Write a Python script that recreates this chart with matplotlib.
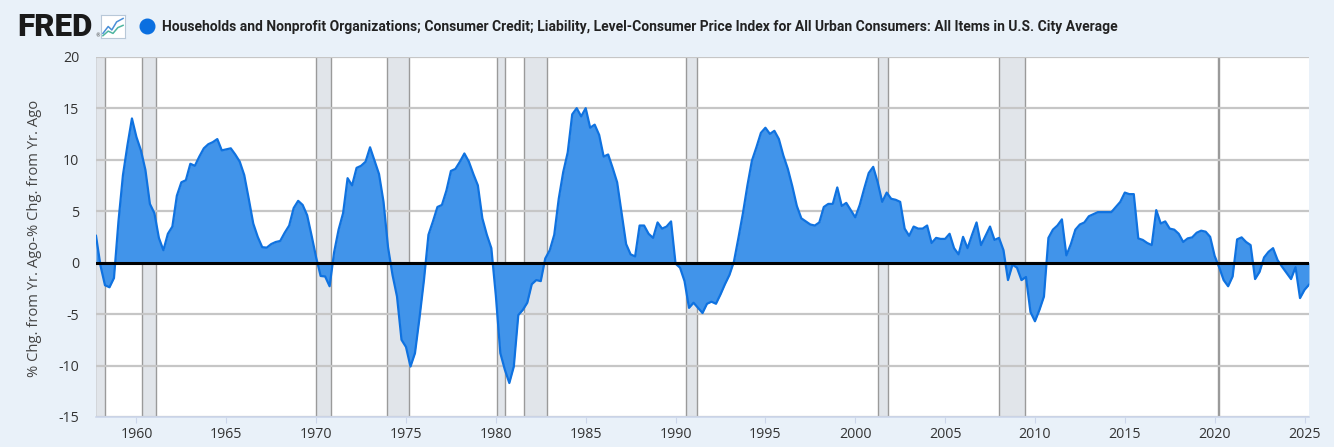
import numpy as np
import matplotlib
matplotlib.use("Agg")
import matplotlib.pyplot as plt
from matplotlib.lines import Line2D

# ---------------- data (quarterly, 1957Q4 .. 2025Q2) ----------------
start_year = 1957.75
values = [
    2.6,
    -0.3, -2.2, -2.4, -1.5,      # 1958
    4.0, 8.5, 11.4, 14.0,        # 1959
    12.2, 10.9, 9.0, 5.7,        # 1960
    4.8, 2.4, 1.2, 2.8,          # 1961
    3.5, 6.5, 7.8, 8.0,          # 1962
    9.6, 9.4, 10.3, 11.1,        # 1963
    11.5, 11.7, 12.0, 10.9,      # 1964
    11.0, 11.1, 10.5, 9.8,       # 1965
    8.5, 6.2, 3.8, 2.5,          # 1966
    1.5, 1.45, 1.8, 2.0,         # 1967
    2.1, 2.9, 3.6, 5.3,          # 1968
    6.0, 5.6, 4.6, 2.6,          # 1969
    0.5, -1.3, -1.35, -2.3,      # 1970
    1.0, 3.2, 4.8, 8.2,          # 1971
    7.5, 9.2, 9.4, 9.8,          # 1972
    11.2, 9.9, 8.6, 5.9,         # 1973
    1.5, -1.2, -3.3, -7.5,       # 1974
    -8.2, -10.1, -8.8, -5.4,     # 1975
    -1.7, 2.7, 4.0, 5.4,         # 1976
    5.6, 7.0, 8.9, 9.1,          # 1977
    9.8, 10.6, 9.8, 8.6,         # 1978
    7.5, 4.3, 2.7, 1.4,          # 1979
    -3.2, -8.8, -10.4, -11.7,    # 1980
    -10.1, -5.1, -4.6, -3.9,     # 1981
    -2.1, -1.7, -1.8, 0.4,       # 1982
    1.2, 2.7, 6.2, 8.8,          # 1983
    10.7, 14.4, 15.0, 14.2,      # 1984
    15.0, 13.1, 13.4, 12.4,      # 1985
    10.3, 10.5, 9.2, 7.8,        # 1986
    4.8, 1.8, 0.8, 0.6,          # 1987
    3.6, 3.6, 2.8, 2.4,          # 1988
    3.9, 3.3, 3.5, 4.0,          # 1989
    -0.1, -0.5, -1.8, -4.4,      # 1990
    -3.9, -4.4, -4.9, -4.0,      # 1991
    -3.8, -4.0, -3.1, -2.1,      # 1992
    -1.2, 0.1, 2.4, 4.8,         # 1993
    7.5, 9.9, 11.2, 12.6,        # 1994
    13.1, 12.5, 12.8, 12.0,      # 1995
    10.4, 9.1, 7.4, 5.5,         # 1996
    4.3, 4.0, 3.7, 3.6,          # 1997
    3.9, 5.4, 5.7, 5.7,          # 1998
    7.3, 5.5, 5.8, 5.1,          # 1999
    4.4, 5.6, 7.2, 8.7,          # 2000
    9.3, 7.8, 5.9, 6.8,          # 2001
    6.2, 6.1, 5.9, 3.3,          # 2002
    2.6, 3.5, 3.3, 3.3,          # 2003
    3.6, 1.9, 2.4, 2.3,          # 2004
    2.3, 2.8, 1.4, 0.8,          # 2005
    2.5, 1.4, 2.7, 3.9,          # 2006
    1.7, 2.6, 3.5, 2.2,          # 2007
    2.4, 1.2, -1.7, -0.2,        # 2008
    -0.5, -1.7, -1.4, -4.8,      # 2009
    -5.7, -4.6, -3.3, 2.4,       # 2010
    3.2, 3.6, 4.2, 0.7,          # 2011
    1.8, 3.2, 3.7, 3.9,          # 2012
    4.5, 4.7, 4.9, 4.9,          # 2013
    4.9, 4.9, 5.4, 5.9,          # 2014
    6.8, 6.65, 6.65, 2.35,       # 2015
    2.2, 1.9, 1.7, 5.1,          # 2016
    3.8, 4.0, 3.3, 3.2,          # 2017
    2.8, 2.0, 2.35, 2.45,        # 2018
    2.9, 3.1, 3.0, 2.5,          # 2019
    0.65, -0.45, -1.7, -2.3,     # 2020
    -1.35, 2.25, 2.45, 2.0,      # 2021
    1.7, -1.6, -0.9, 0.5,        # 2022
    1.05, 1.4, 0.25, -0.4,       # 2023
    -1.0, -1.6, -0.45, -3.45,    # 2024
    -2.65, -2.15,                # 2025
]
dates = start_year + 0.25 * np.arange(len(values))

recession_starts = [1957.67, 1960.33, 1970.0, 1973.92, 1980.08, 1981.58, 1990.58, 2001.25, 2008.0, 2020.17]
recession_ends = [1958.25, 1961.08, 1970.83, 1975.17, 1980.5, 1982.83, 1991.17, 2001.83, 2009.42, 2020.25]

x_ticks = list(range(1960, 2026, 5))
y_ticks = [-15, -10, -5, 0, 5, 10, 15, 20]

title = ("Households and Nonprofit Organizations; Consumer Credit; Liability, "
         "Level-Consumer Price Index for All Urban Consumers: All Items in U.S. City Average")
y_label = "% Chg. from Yr. Ago-% Chg. from Yr. Ago"

# ---------------- figure ----------------
W, H = 1334, 447
fig = plt.figure(figsize=(W / 100, H / 100), dpi=100)
fig.patch.set_facecolor("#e9f1f9")

left, right, top, bottom = 96, 1309, 56.7, 417
ax = fig.add_axes([left / W, 1 - bottom / H, (right - left) / W, (bottom - top) / H])
ax.set_facecolor("white")

for s, e in zip(recession_starts, recession_ends):
    ax.axvspan(s, e, facecolor="#e1e5ea", edgecolor="none", zorder=0)
    ax.axvline(s, color="#9a9a9a", lw=1.0, zorder=1)
    ax.axvline(e, color="#9a9a9a", lw=1.0, zorder=1)

for yv in y_ticks:
    ax.axhline(yv, color="#c6c6c6", lw=1.6, zorder=1)

ax.fill_between(dates, 0, values, color="#4194ea", lw=0, zorder=2)
ax.plot(dates, values, color="#0f72e0", lw=1.6, zorder=3)
ax.axhline(0, color="black", lw=2.2, zorder=4)

ax.set_xlim(dates[0], dates[-1])
ax.set_ylim(-15, 20)
ax.set_xticks(x_ticks)
ax.set_xticklabels([str(t) for t in x_ticks])
ax.set_yticks(y_ticks)
ax.set_yticklabels([str(t) for t in y_ticks])

for lab in ax.get_xticklabels() + ax.get_yticklabels():
    lab.set_fontfamily("Open Sans")
    lab.set_fontsize(10.2)
    lab.set_color("#333333")
ax.tick_params(axis="x", length=4, color="#ccd6eb", pad=3)
ax.tick_params(axis="y", length=0, pad=12)

for sp in ["left", "right", "top"]:
    ax.spines[sp].set_visible(False)
ax.spines["bottom"].set_color("#ccd6eb")
ax.spines["bottom"].set_linewidth(1.2)

fig.text(35 / W, 1 - 238 / H, y_label, rotation=90, ha="center", va="center",
         family="Open Sans", fontsize=10.6, color="#444444")

# ---------------- header ----------------
fig.text(17 / W, 1 - 27 / H, "FRED", ha="left", va="center", family="Roboto",
         fontweight="black", fontsize=22.5, color="#1a1a1a")
fig.text(95 / W, 1 - 36 / H, "®", ha="left", va="center", fontsize=3.5, color="#333333")

icon = fig.add_axes([101 / W, 1 - 38 / H, 24 / W, 23 / H])
icon.set_xlim(0, 1)
icon.set_ylim(0, 1)
icon.set_xticks([])
icon.set_yticks([])
icon.set_facecolor("white")
for sp in icon.spines.values():
    sp.set_color("#b8c8d8")
    sp.set_linewidth(0.8)
icon.plot([0.08, 0.3, 0.45, 0.65, 0.92], [0.2, 0.5, 0.35, 0.7, 0.85], color="#4a8fd8", lw=1.1)
icon.plot([0.08, 0.3, 0.5, 0.7, 0.92], [0.1, 0.3, 0.2, 0.45, 0.55], color="#4fb5a0", lw=1.1)

fig.add_artist(Line2D([147 / W], [1 - 26 / H], marker="o", markersize=10.5,
                      color="#0a6fe0", transform=fig.transFigure))
fig.text(162 / W, 1 - 26.5 / H, title, ha="left", va="center", family="Roboto",
         fontweight="bold", fontsize=10.0, color="#222222")

fig.savefig("out.png", dpi=100, facecolor=fig.get_facecolor())
